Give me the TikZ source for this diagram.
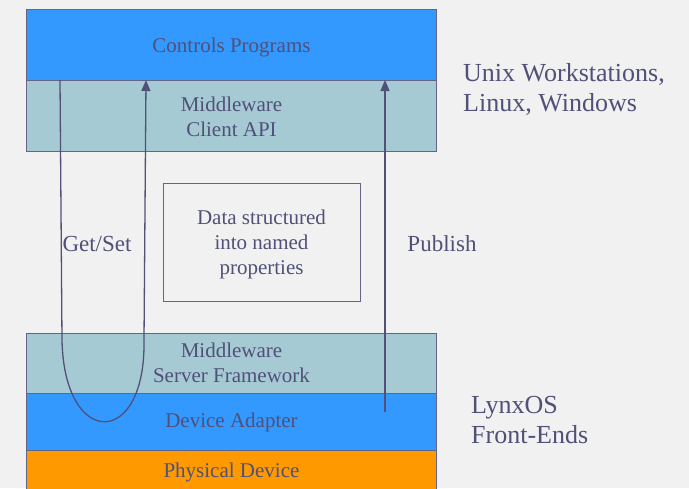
\documentclass[tikz,border=0pt]{standalone}
\usepackage{fontspec}
\setmainfont{Liberation Serif}
\usetikzlibrary{arrows.meta}
\definecolor{bgpaper}{RGB}{241,241,241}
\definecolor{layerblue}{RGB}{51,153,255}
\definecolor{layerteal}{RGB}{166,202,212}
\definecolor{layerorange}{RGB}{255,153,0}
\definecolor{inkslate}{RGB}{80,80,120}
\definecolor{edgeslate}{RGB}{100,100,135}
\tikzset{
  layer/.style={draw=edgeslate, line width=1pt, minimum width=410pt,
    inner sep=0pt, outer sep=0pt, align=center, text=inkslate,
    font=\fontsize{21}{25}\selectfont},
  sidelabel/.style={text=inkslate, align=left, inner sep=0pt,
    font=\fontsize{26}{30}\selectfont},
  flowlabel/.style={text=inkslate, inner sep=0pt,
    font=\fontsize{23}{27}\selectfont},
  flow/.style={draw=inkslate, line width=1.3pt,
    -{Triangle[width=9pt,length=11pt]}}
}
\begin{document}
\begin{tikzpicture}[x=1pt,y=-1pt]
\useasboundingbox[fill=bgpaper] (0,0) rectangle (689,488);

% upper software stack
\node[layer, fill=layerblue, minimum height=71pt] (ctrl) at (231.5,44.5) {};
\node[text=inkslate, font=\fontsize{21}{25}\selectfont] (ctrltext) at (231.5,47) {Controls Programs};
\node[layer, fill=layerteal, minimum height=71pt] (client) at (231.5,115.5) {};
\node[text=inkslate, align=center, font=\fontsize{21}{25}\selectfont] (clienttext) at (231.5,117) {Middleware\\Client API};

% data model
\node[draw=edgeslate, line width=1pt, minimum width=197pt, minimum height=118pt] (data) at (261.5,242) {};
\node[text=inkslate, align=center, font=\fontsize{21}{25}\selectfont] (datatext) at (261.5,244)
  {Data structured\\into named\\properties};

% front-end stack
\node[layer, fill=layerteal, minimum height=60pt] (server) at (231.5,363) {Middleware\\Server Framework};
\node[layer, fill=layerblue, minimum height=57pt] (adapter) at (231.5,421.5) {};
\node[text=inkslate, font=\fontsize{21}{25}\selectfont] (adaptertext) at (231.5,422) {Device Adapter};
\node[layer, fill=layerorange, minimum height=42pt] (phys) at (231.5,471) {};
\node[text=inkslate, font=\fontsize{21}{25}\selectfont] (phystext) at (231.5,472) {Physical Device};

% platform labels
\node[sidelabel, anchor=west] (ws) at (463,89) {Unix Workstations,\\Linux, Windows};
\node[sidelabel, anchor=west] (fe) at (471,420) {LynxOS\\Front-Ends};

% get/set round trip
\coordinate (gsTop) at (60,80);
\coordinate (gsEnd) at (146,80);
\draw[flow] (gsTop) -- (62,340) .. controls (64,449) and (146,449) .. (144,340) -- (gsEnd);
\node[flowlabel] (gs) at (97,244) {Get/Set};

% publish path
\coordinate (pubStart) at (385,412);
\coordinate (pubEnd) at (385,80);
\draw[flow] (pubStart) -- (pubEnd);
\node[flowlabel] (pub) at (442,244) {Publish};
\end{tikzpicture}
\end{document}
